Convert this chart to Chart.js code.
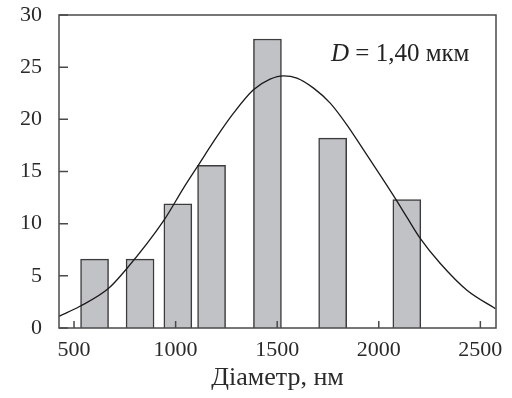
<!DOCTYPE html>
<html>
<head>
<meta charset="utf-8">
<script src="https://cdn.jsdelivr.net/npm/chart.js@4.4.1/dist/chart.umd.min.js"></script>
<style>
html, body { margin: 0; padding: 0; background: #fff; }
</style>
</head>
<body>
<canvas id="histChart" width="512" height="398"></canvas>
<script>
// histogram bins (nm) and counts
const binCenters = [601, 825, 1011, 1177, 1452, 1773, 2138];
const counts = [6.6, 6.6, 11.9, 15.6, 27.7, 18.2, 12.3];

// fitted curve
const fitX = [426, 529, 669, 756, 943, 1038, 1112, 1203, 1285, 1383, 1465, 1531, 1597, 1679, 1761, 1843, 1925, 2007, 2081, 2139, 2204, 2303, 2434, 2574];
const fitY = [1.12, 2.08, 3.78, 5.61, 10.34, 13.39, 15.62, 18.34, 20.59, 22.83, 23.85, 24.17, 23.95, 22.99, 21.55, 19.47, 17.07, 14.66, 12.43, 10.60, 8.59, 6.18, 3.62, 1.86];

const xTicks = [500, 1000, 1500, 2000, 2500];
const yTicks = [0, 5, 10, 15, 20, 25, 30];

const axisColor = '#4a4a4a';
Chart.defaults.font.family = '"Liberation Serif", "DejaVu Serif", serif';
Chart.defaults.color = '#2a2a2a';

// рамка, внутрішні засічки і підпис
const frame = {
    id: 'frame',
    afterDatasetsDraw(chart) {
        const { ctx, chartArea: a, scales } = chart;
        ctx.save();
        ctx.strokeStyle = axisColor;
        ctx.lineWidth = 1.5;
        ctx.strokeRect(a.left, a.top, a.right - a.left, a.bottom - a.top);

        ctx.beginPath();
        yTicks.forEach(v => {
            const y = scales.y.getPixelForValue(v);
            ctx.moveTo(a.left, y);
            ctx.lineTo(a.left + 9, y);
        });
        xTicks.forEach(v => {
            const x = scales.x.getPixelForValue(v);
            ctx.moveTo(x, a.bottom);
            ctx.lineTo(x, a.bottom - 7);
        });
        ctx.stroke();

        ctx.fillStyle = '#222';
        ctx.textBaseline = 'middle';
        ctx.font = 'italic 25px "Liberation Serif", serif';
        const x0 = 331, y0 = 54;
        ctx.fillText('D', x0, y0);
        const w = ctx.measureText('D').width;
        ctx.font = '25px "Liberation Serif", serif';
        ctx.fillText(' = 1,40 мкм', x0 + w, y0);
        ctx.restore();
    }
};

new Chart(document.getElementById('histChart'), {
    type: 'bar',
    data: {
        datasets: [{
            type: 'line',
            data: fitX.map((x, i) => ({ x: x, y: fitY[i] })),
            borderColor: '#1a1a1a',
            borderWidth: 1.3,
            pointRadius: 0,
            cubicInterpolationMode: 'monotone',
            fill: false,
            order: 0
        }, {
            type: 'bar',
            data: binCenters.map((x, i) => ({ x: x, y: counts[i] })),
            backgroundColor: '#c1c2c6',
            borderColor: '#3c3c3c',
            borderWidth: 1.5,
            barThickness: 28,
            order: 1
        }]
    },
    options: {
        responsive: false,
        animation: false,
        layout: { padding: { left: 0, right: 16, top: 15, bottom: 0 } },
        plugins: {
            legend: { display: false },
            tooltip: { enabled: false }
        },
        scales: {
            x: {
                type: 'linear',
                min: 426,
                max: 2577,
                offset: false,
                grid: { display: false },
                border: { display: false },
                afterBuildTicks: s => { s.ticks = xTicks.map(v => ({ value: v })); },
                afterFit: s => { s.height = 70; s.paddingLeft = 0; s.paddingRight = 0; },
                ticks: { font: { size: 22 }, padding: 1, maxRotation: 0, callback: v => String(v) },
                title: {
                    display: true,
                    text: 'Діаметр, нм',
                    font: { size: 26 },
                    padding: { top: 0, bottom: 4 }
                }
            },
            y: {
                min: 0,
                max: 30,
                grid: { display: false },
                border: { display: false },
                afterBuildTicks: s => { s.ticks = yTicks.map(v => ({ value: v })); },
                afterFit: s => { s.width = 59; s.paddingTop = 0; s.paddingBottom = 0; },
                ticks: { font: { size: 22 }, padding: 9, callback: v => String(v) }
            }
        }
    },
    plugins: [frame]
});
</script>
</body>
</html>
